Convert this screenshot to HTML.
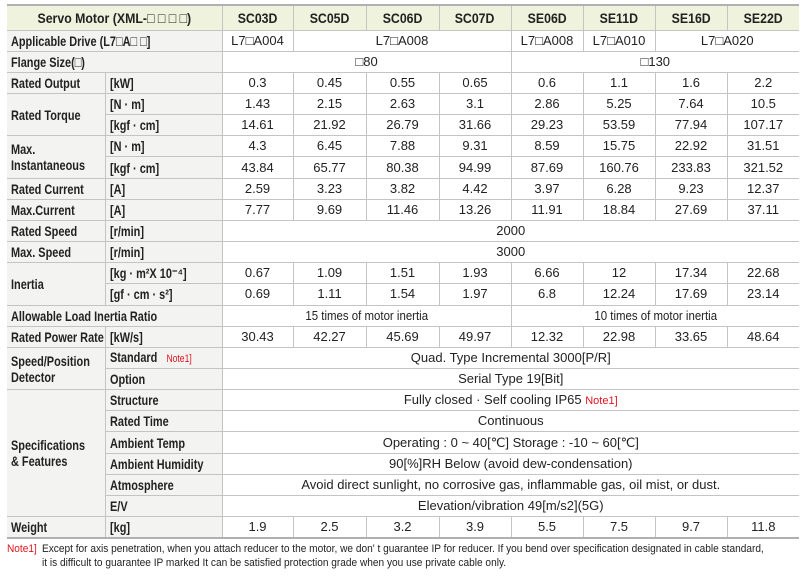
<!DOCTYPE html>
<html><head><meta charset="utf-8"><style>
html,body{margin:0;padding:0;background:#fff;width:804px;height:576px;overflow:hidden}
body{font-family:"Liberation Sans",sans-serif;color:#222}
table{position:absolute;left:7px;top:4px;border-collapse:collapse;table-layout:fixed;width:792px;font-size:13px}
td{border:1px solid #c4c4c4;padding:0;text-align:center;height:20px;line-height:18px;white-space:nowrap;overflow:hidden}
tr{height:21.17px}
tr.h{height:25px}
tr.h td{background:#eff2dc;font-weight:bold;font-size:14px;border-top:2px solid #b0b0b0}
td.l{background:#f3f3f1;text-align:left;padding-left:4px;font-weight:bold;font-size:14px}
td.u{background:#f3f3f1;text-align:left;padding-left:4px;font-weight:bold;font-size:14px}
td:first-child{border-left:none}
td:last-child{border-right:none}
.s{display:inline-block;transform:scaleX(.78);transform-origin:left center}
.c{display:inline-block;transform:scaleX(.88)}
.n{color:#e0141e;font-size:11px;font-weight:normal}
tr.last td{border-bottom:2px solid #b0b0b0}
.foot{position:absolute;left:7px;top:542px;font-size:11px;line-height:14px;color:#222;white-space:nowrap;transform:scaleX(.92);transform-origin:left top}
.foot .n{font-size:11px;display:inline-block;width:38px}
</style></head><body>
<table>
<colgroup><col style="width:98px"><col style="width:117px"><col style="width:71px"><col style="width:73px"><col style="width:73px"><col style="width:72px"><col style="width:72px"><col style="width:72px"><col style="width:72px"><col style="width:72px"></colgroup>
<tr class="h"><td colspan="2"><span class="c">Servo Motor (XML-□ □ □ □)</span></td><td><span class="c">SC03D</span></td><td><span class="c">SC05D</span></td><td><span class="c">SC06D</span></td><td><span class="c">SC07D</span></td><td><span class="c">SE06D</span></td><td><span class="c">SE11D</span></td><td><span class="c">SE16D</span></td><td><span class="c">SE22D</span></td></tr>
<tr><td class="l" colspan="2"><span class="s">Applicable Drive (L7□A□ □]</span></td><td>L7□A004</td><td colspan="3">L7□A008</td><td>L7□A008</td><td>L7□A010</td><td colspan="2">L7□A020</td></tr>
<tr><td class="l" colspan="2"><span class="s">Flange Size(□)</span></td><td colspan="4">□80</td><td colspan="4">□130</td></tr>
<tr><td class="l"><span class="s">Rated Output</span></td><td class="u"><span class="s">[kW]</span></td><td>0.3</td><td>0.45</td><td>0.55</td><td>0.65</td><td>0.6</td><td>1.1</td><td>1.6</td><td>2.2</td></tr>
<tr><td class="l" rowspan="2"><span class="s">Rated Torque</span></td><td class="u"><span class="s">[N · m]</span></td><td>1.43</td><td>2.15</td><td>2.63</td><td>3.1</td><td>2.86</td><td>5.25</td><td>7.64</td><td>10.5</td></tr>
<tr><td class="u"><span class="s">[kgf · cm]</span></td><td>14.61</td><td>21.92</td><td>26.79</td><td>31.66</td><td>29.23</td><td>53.59</td><td>77.94</td><td>107.17</td></tr>
<tr><td class="l" rowspan="2" style="line-height:16px"><span class="s">Max.<br>Instantaneous</span></td><td class="u"><span class="s">[N · m]</span></td><td>4.3</td><td>6.45</td><td>7.88</td><td>9.31</td><td>8.59</td><td>15.75</td><td>22.92</td><td>31.51</td></tr>
<tr><td class="u"><span class="s">[kgf · cm]</span></td><td>43.84</td><td>65.77</td><td>80.38</td><td>94.99</td><td>87.69</td><td>160.76</td><td>233.83</td><td>321.52</td></tr>
<tr><td class="l"><span class="s">Rated Current</span></td><td class="u"><span class="s">[A]</span></td><td>2.59</td><td>3.23</td><td>3.82</td><td>4.42</td><td>3.97</td><td>6.28</td><td>9.23</td><td>12.37</td></tr>
<tr><td class="l"><span class="s">Max.Current</span></td><td class="u"><span class="s">[A]</span></td><td>7.77</td><td>9.69</td><td>11.46</td><td>13.26</td><td>11.91</td><td>18.84</td><td>27.69</td><td>37.11</td></tr>
<tr><td class="l"><span class="s">Rated Speed</span></td><td class="u"><span class="s">[r/min]</span></td><td colspan="8">2000</td></tr>
<tr><td class="l"><span class="s">Max. Speed</span></td><td class="u"><span class="s">[r/min]</span></td><td colspan="8">3000</td></tr>
<tr><td class="l" rowspan="2"><span class="s">Inertia</span></td><td class="u"><span class="s">[kg · m²X 10⁻⁴]</span></td><td>0.67</td><td>1.09</td><td>1.51</td><td>1.93</td><td>6.66</td><td>12</td><td>17.34</td><td>22.68</td></tr>
<tr><td class="u"><span class="s">[gf · cm · s²]</span></td><td>0.69</td><td>1.11</td><td>1.54</td><td>1.97</td><td>6.8</td><td>12.24</td><td>17.69</td><td>23.14</td></tr>
<tr><td class="l" colspan="2"><span class="s">Allowable Load Inertia Ratio</span></td><td colspan="4"><span class="c">15 times of motor inertia</span></td><td colspan="4"><span class="c">10 times of motor inertia</span></td></tr>
<tr><td class="l"><span class="s">Rated Power Rate</span></td><td class="u"><span class="s">[kW/s]</span></td><td>30.43</td><td>42.27</td><td>45.69</td><td>49.97</td><td>12.32</td><td>22.98</td><td>33.65</td><td>48.64</td></tr>
<tr><td class="l" rowspan="2" style="line-height:16px"><span class="s">Speed/Position<br>Detector</span></td><td class="u"><span class="s">Standard &nbsp; <span class="n">Note1]</span></span></td><td colspan="8">Quad. Type Incremental 3000[P/R]</td></tr>
<tr><td class="u"><span class="s">Option</span></td><td colspan="8">Serial Type 19[Bit]</td></tr>
<tr><td class="l" rowspan="6" style="line-height:16px"><span class="s">Specifications<br>&amp; Features</span></td><td class="u"><span class="s">Structure</span></td><td colspan="8">Fully closed · Self cooling IP65 <span class="n">Note1]</span></td></tr>
<tr><td class="u"><span class="s">Rated Time</span></td><td colspan="8">Continuous</td></tr>
<tr><td class="u"><span class="s">Ambient Temp</span></td><td colspan="8">Operating : 0 ~ 40[℃] Storage : -10 ~ 60[℃]</td></tr>
<tr><td class="u"><span class="s">Ambient Humidity</span></td><td colspan="8">90[%]RH Below (avoid dew-condensation)</td></tr>
<tr><td class="u"><span class="s">Atmosphere</span></td><td colspan="8">Avoid direct sunlight, no corrosive gas, inflammable gas, oil mist, or dust.</td></tr>
<tr><td class="u"><span class="s">E/V</span></td><td colspan="8">Elevation/vibration 49[m/s2](5G)</td></tr>
<tr class="last"><td class="l"><span class="s">Weight</span></td><td class="u"><span class="s">[kg]</span></td><td>1.9</td><td>2.5</td><td>3.2</td><td>3.9</td><td>5.5</td><td>7.5</td><td>9.7</td><td>11.8</td></tr>
</table>
<div class="foot"><span class="n">Note1]</span>Except for axis penetration, when you attach reducer to the motor, we don' t guarantee IP for reducer. If you bend over specification designated in cable standard,<br><span style="display:inline-block;width:38px"></span>it is difficult to guarantee IP marked It can be satisfied protection grade when you use private cable only.</div>
</body></html>
